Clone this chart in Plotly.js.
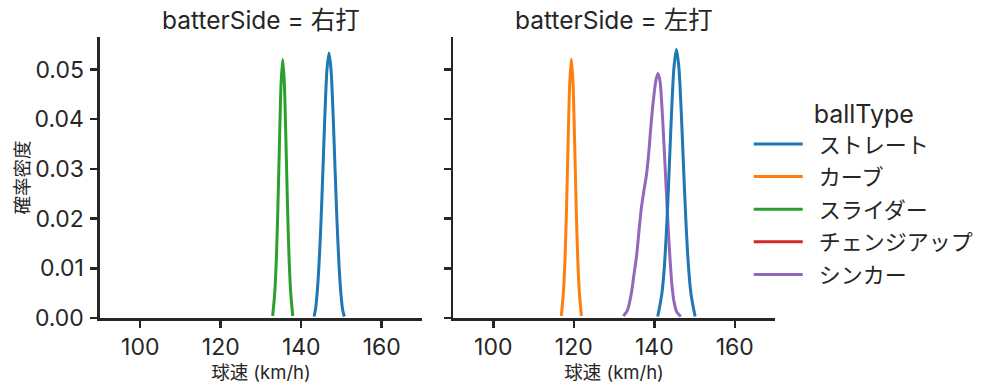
<!DOCTYPE html>
<html>
<head>
<meta charset="utf-8">
<script src="https://cdn.plot.ly/plotly-3.0.1.min.js"></script>
<style>html,body{margin:0;padding:0;background:#fff;}#chart{width:999px;height:391px;}</style>
</head>
<body>
<div id="chart"></div>
<script>
// ---- data ----
const facetTitles = ["batterSide = 右打", "batterSide = 左打"];
const ballTypes = ["ストレート", "カーブ", "スライダー", "チェンジアップ", "シンカー"];
const colors = ["#1f77b4", "#ff7f0e", "#2ca02c", "#d62728", "#9467bd"];

const xTicks = [100, 120, 140, 160];
const yTicks = [0, 0.01, 0.02, 0.03, 0.04, 0.05];

// 右打
const rStraightX = [143.2, 143.55, 143.9, 144.4, 144.9, 145.4, 145.9, 146.4, 146.9, 147.4, 147.9, 148.4, 148.9, 149.4, 149.9, 150.3, 150.7];
const rStraightY = [0.0003, 0.0018, 0.0045, 0.0105, 0.0192, 0.0300, 0.0413, 0.0500, 0.0533, 0.0500, 0.0413, 0.0300, 0.0192, 0.0105, 0.0045, 0.0016, 0.0003];
const rSliderX = [132.9, 133.4, 133.8, 134.2, 134.6, 135.0, 135.4, 135.8, 136.2, 136.6, 137.0, 137.4, 137.9];
const rSliderY = [0.0004, 0.0049, 0.0115, 0.0222, 0.0356, 0.0473, 0.0520, 0.0473, 0.0356, 0.0222, 0.0115, 0.0049, 0.0004];

// 左打
const lStraightX = [140.85, 141.3, 141.9, 142.5, 143.1, 143.7, 144.3, 144.9, 145.5, 146.1, 146.7, 147.3, 147.9, 148.5, 149.1, 149.7, 150.15];
const lStraightY = [0.0003, 0.0021, 0.0050, 0.0103, 0.0188, 0.0298, 0.0415, 0.0505, 0.0540, 0.0505, 0.0415, 0.0298, 0.0188, 0.0103, 0.0050, 0.0021, 0.0003];
const lCurveX = [116.9, 117.4, 117.8, 118.2, 118.6, 119.0, 119.4, 119.8, 120.2, 120.6, 121.0, 121.4, 121.9];
const lCurveY = [0.0004, 0.0049, 0.0115, 0.0222, 0.0357, 0.0474, 0.0521, 0.0474, 0.0357, 0.0222, 0.0115, 0.0049, 0.0004];
const lSinkerX = [132.3, 133.3, 134.2, 135.0, 135.6, 136.2, 136.8, 137.4, 138.0, 138.6, 139.2, 139.8, 140.4, 140.9, 141.4, 141.9, 142.4, 142.9, 143.4, 143.9, 144.4, 144.9, 145.6, 146.6];
const lSinkerY = [0.0004, 0.0015, 0.0045, 0.0090, 0.0125, 0.0175, 0.0222, 0.0255, 0.0285, 0.0330, 0.0390, 0.0440, 0.0478, 0.0492, 0.0478, 0.0425, 0.0350, 0.0270, 0.0190, 0.0120, 0.0065, 0.0033, 0.0012, 0.0003];
// チェンジアップ: no data in either facet (legend entry only)
const changeupX = [null];
const changeupY = [null];

// ---- chart ----
const FONT = "Inter, Noto Sans CJK JP, sans-serif";
const INK = "#262626";

function line(x, y, idx, xa, ya, show) {
  return {
    type: "scatter", mode: "lines", x: x, y: y,
    xaxis: xa, yaxis: ya,
    name: "\u2002" + ballTypes[idx], legendgroup: ballTypes[idx], showlegend: show,
    line: {color: colors[idx], width: 3, shape: "spline", smoothing: 0.8},
    hoverinfo: "x+y+name"
  };
}

const traces = [
  line(rStraightX, rStraightY, 0, "x", "y", true),
  line(lCurveX, lCurveY, 1, "x2", "y2", true),
  line(rSliderX, rSliderY, 2, "x", "y", true),
  line(changeupX, changeupY, 3, "x", "y", true),
  line(lSinkerX, lSinkerY, 4, "x2", "y2", true),
  line(lStraightX, lStraightY, 0, "x2", "y2", false)
];

const xBase = {
  range: [90, 170], tickvals: xTicks, ticktext: xTicks.map(String),
  showline: true, linecolor: INK, linewidth: 2.5, mirror: false,
  ticks: "outside", ticklen: 7, tickwidth: 2.5, tickcolor: INK,
  showgrid: false, zeroline: false,
  tickfont: {family: FONT, size: 23, color: INK},
  title: {text: "球速 (km/h)", font: {family: FONT, size: 18.5, color: INK}, standoff: 1}
};
const yBase = {
  range: [0, 0.05654], tickvals: yTicks, ticktext: yTicks.map(v => v.toFixed(2)),
  showline: true, linecolor: INK, linewidth: 2.5,
  ticks: "outside", ticklen: 7, tickwidth: 2.5, tickcolor: INK,
  showgrid: false, zeroline: false, ticklabelstandoff: 2,
  tickfont: {family: FONT, size: 23, color: INK},
  domain: [0.1867, 0.9054]
};

const layout = {
  width: 999, height: 391,
  margin: {l: 0, r: 0, t: 0, b: 0},
  paper_bgcolor: "#fff", plot_bgcolor: "#fff",
  font: {family: FONT, color: INK},
  showlegend: true,
  xaxis: Object.assign({}, xBase, {domain: [0.1001, 0.4224], anchor: "y"}),
  xaxis2: Object.assign({}, xBase, {domain: [0.4535, 0.7758], anchor: "y2", matches: "x"}),
  yaxis: Object.assign({}, yBase, {anchor: "x",
    title: {text: "確率密度", font: {family: FONT, size: 18.5, color: INK}, standoff: 0}}),
  yaxis2: Object.assign({}, yBase, {anchor: "x2", matches: "y", showticklabels: false}),
  legend: {
    x: 0.7495, y: 0.768, xanchor: "left", yanchor: "top",
    bgcolor: "rgba(0,0,0,0)", borderwidth: 0,
    font: {family: FONT, size: 22, color: INK},
    title: {text: "ballType", side: "top center", font: {family: FONT, size: 25, color: INK}},
    itemwidth: 49, traceorder: "grouped", tracegroupgap: 1
  },
  annotations: [
    {text: facetTitles[0], xref: "paper", yref: "paper", x: (0.1001 + 0.4224) / 2, y: 1 - 20 / 391,
     xanchor: "center", yanchor: "middle", showarrow: false, font: {family: FONT, size: 24.5, color: INK}},
    {text: facetTitles[1], xref: "paper", yref: "paper", x: (0.4535 + 0.7758) / 2, y: 1 - 20 / 391,
     xanchor: "center", yanchor: "middle", showarrow: false, font: {family: FONT, size: 24.5, color: INK}}
  ]
};

Plotly.newPlot("chart", traces, layout, {displayModeBar: false, staticPlot: true});
</script>
</body>
</html>
